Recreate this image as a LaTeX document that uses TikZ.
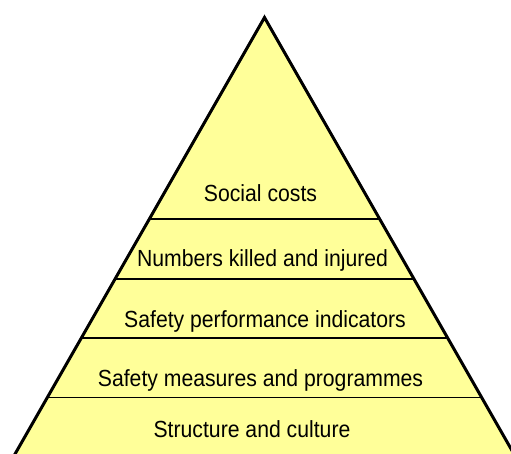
\documentclass[tikz,border=0pt]{standalone}
\usepackage{fontspec}
\setmainfont{Liberation Sans}
\usetikzlibrary{calc}
\definecolor{tierfill}{RGB}{255,255,153}
\tikzset{
  tierline/.style={line width=1.6pt, black},
  outline/.style={line width=3pt, black, line join=miter, miter limit=20},
  tierlabel/.style={anchor=base, inner sep=0pt, font=\fontsize{21.2}{25}\selectfont},
}
\newcommand{\tallerlabel}[1]{\scalebox{1}[1.1]{#1}}
\begin{document}
\begin{tikzpicture}[x=1pt,y=1pt]
  \useasboundingbox (0,0) rectangle (511,453);
  \clip (0,0) rectangle (511,453);
  % pyramid outline
  \coordinate (apex) at (264.5,435.5);
  \coordinate (bl) at ({264.5-0.5715*445.5},-10);
  \coordinate (br) at ({264.5+0.5715*445.5},-10);
  \fill[tierfill] (apex) -- (bl) -- (br) -- cycle;
  % tier dividers
  \foreach \h/\n in {234/a,174/b,115/c,55.5/d}{
    \coordinate (l\n) at ({264.5-0.5715*(435.5-\h)},\h);
    \coordinate (r\n) at ({264.5+0.5715*(435.5-\h)},\h);
    \draw[tierline] (l\n) -- (r\n);
  }
  \draw[outline] (bl) -- (apex) -- (br);
  % tier labels
  \node[tierlabel] (costs) at (260.5,251) {\tallerlabel{Social costs}};
  \node[tierlabel] (casualties) at (262.5,187) {\tallerlabel{Numbers killed and injured}};
  \node[tierlabel] (indicators) at (265,125.5) {\tallerlabel{Safety performance indicators}};
  \node[tierlabel] (measures) at (260.5,67) {\tallerlabel{Safety measures and programmes}};
  \node[tierlabel] (culture) at (252,16) {\tallerlabel{Structure and culture}};
\end{tikzpicture}
\end{document}
